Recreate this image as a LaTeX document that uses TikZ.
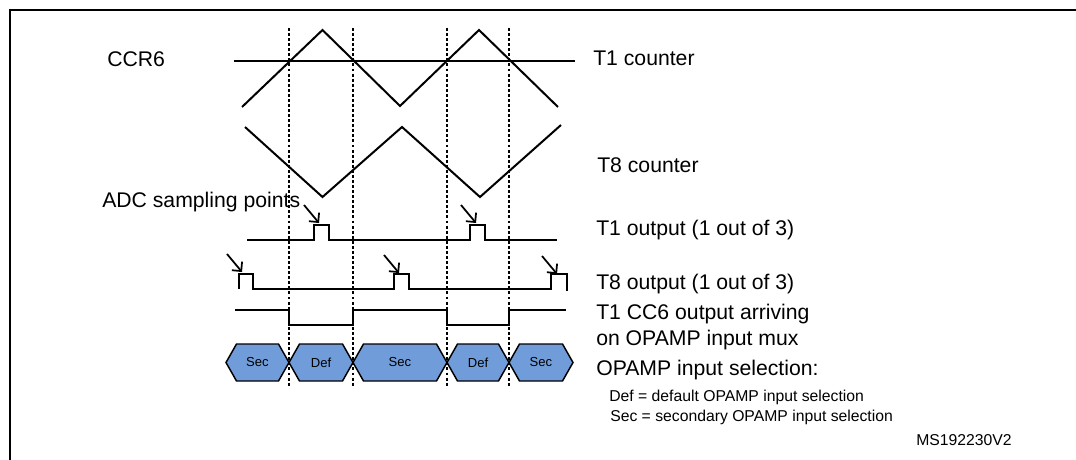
\documentclass[tikz,border=0pt]{standalone}
\usepackage{fontspec}
\setmainfont{Liberation Sans}
\usetikzlibrary{arrows.meta}

\definecolor{selblue}{RGB}{112,157,218}

\begin{document}
\begin{tikzpicture}[x=0.75pt, y=-0.75pt]
    \tikzstyle{wave}=[line width=1.5pt, line join=miter]
    \tikzstyle{marker}=[line width=1.1pt, dash pattern=on 2.2pt off 1.6pt]
    \tikzstyle{sigtext}=[inner sep=0pt, anchor=base west, font=\fontsize{15.9}{19.8}\selectfont]
    \tikzstyle{notetext}=[inner sep=0pt, anchor=base west, font=\fontsize{11.8}{14}\selectfont]
    \tikzstyle{cellbox}=[draw, line width=1.1pt, fill=selblue, line join=miter]
    \tikzstyle{celltext}=[inner sep=0pt, font=\fontsize{9.8}{12}\selectfont]
    \tikzstyle{sampling}=[line width=1.3pt, -{Straight Barb[length=5pt, width=10pt]}]

    \useasboundingbox (0,0) rectangle (1076,460);

    % frame
    \draw[line width=1.6pt] (10,470) -- (10,10) -- (1090,10);

    % crossing points of CCR6
    \foreach \x in {289, 353, 447, 509}
        \draw[marker] (\x,28) -- (\x,386);

    % counters
    \draw[wave] (234,61) -- (575,61);
    \draw[wave] (242,107) -- (322.5,30) -- (400,106) -- (479,30) -- (558,107);
    \draw[wave] (245,127) -- (322.5,197) -- (402,127) -- (480,197) -- (561,125);

    % outputs
    \draw[wave] (247,240) -- (314,240) -- (314,225) -- (329,225) -- (329,240)
        -- (470,240) -- (470,225) -- (485,225) -- (485,240) -- (557,240);
    \draw[wave] (238.5,289) -- (238.5,274) -- (253,274) -- (253,289)
        -- (394,289) -- (394,274) -- (409,274) -- (409,289)
        -- (551,289) -- (551,274) -- (566.5,274) -- (566.5,291);
    \draw[wave] (235,310) -- (289,310) -- (289,324.5) -- (353,324.5) -- (353,310)
        -- (447,310) -- (447,324.5) -- (509,324.5) -- (509,310) -- (566,310);

    % ADC sampling points
    \foreach \x/\y in {319/223, 476/223, 242/272, 399/273, 557/274}
        \draw[sampling] (\x-15,\y-18) -- (\x,\y);

    % OPAMP input selection
    \foreach \xa/\xb/\txt/\nm in {226/289/Sec/selA, 289/353/Def/selB, 353/447/Sec/selC, 447/509/Def/selD, 509/573/Sec/selE} {
        \draw[cellbox] (\xa,362.5) -- (\xa+10.5,344) -- (\xb-10.5,344) -- (\xb,362.5)
            -- (\xb-10.5,381) -- (\xa+10.5,381) -- cycle;
        \node[celltext] (\nm) at ({(\xa+\xb)/2},362.5) {\txt};
    }

    % labels
    \node[sigtext] (ccr) at (107,67) {CCR6};
    \node[sigtext] (cnt1) at (593,66) {T1 counter};
    \node[sigtext] (cnt8) at (597,172) {T8 counter};
    \node[sigtext] (adc) at (102,207) {ADC sampling points};
    \node[sigtext] (out1) at (596,235) {T1 output (1 out of 3)};
    \node[sigtext] (out8) at (596,289) {T8 output (1 out of 3)};
    \node[sigtext] (cc6a) at (596,319.5) {T1 CC6 output arriving};
    \node[sigtext] (cc6b) at (596,345.8) {on OPAMP input mux};
    \node[sigtext] (sel) at (596,375) {OPAMP input selection:};
    \node[notetext] (defnote) at (609,401.5) {Def = default OPAMP input selection};
    \node[notetext] (secnote) at (610,421.5) {Sec = secondary OPAMP input selection};
    \node[notetext] (msid) at (916,445) {MS192230V2};
\end{tikzpicture}
\end{document}
